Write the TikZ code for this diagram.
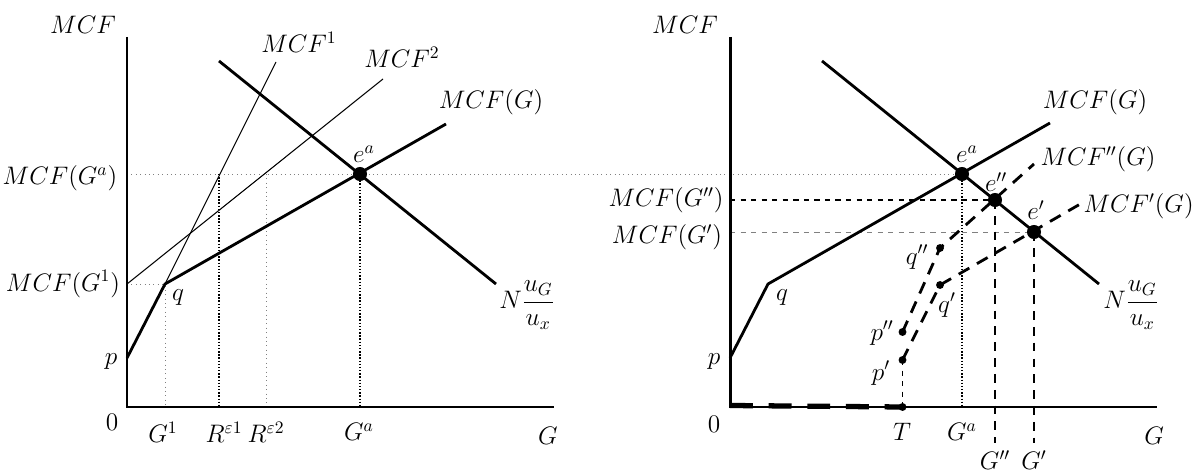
\documentclass[tikz,border=0pt]{standalone}
\usepackage{amsmath}
\usetikzlibrary{arrows.meta}

\begin{document}
\begin{tikzpicture}[x=0.02cm, y=0.02cm, font=\fontsize{14}{17}\selectfont,
  axisline/.style={line width=1.7pt},
  curve/.style={line width=1.6pt},
  thinline/.style={line width=0.6pt},
  lightdot/.style={gray, dotted, line width=0.5pt},
  darkdot/.style={densely dotted, line width=0.8pt},
  dashcurve/.style={line width=1.6pt, dash pattern=on 7pt off 5pt},
  dashdrop/.style={line width=1.1pt, dash pattern=on 5pt off 4pt},
  bigdot/.style={circle, fill, inner sep=0pt, minimum size=8pt},
  smalldot/.style={circle, fill, inner sep=0pt, minimum size=4.5pt}]
  \useasboundingbox (-127,-66) rectangle (1068,407);

  % left panel
  \coordinate (lp) at (0,49);
  \coordinate (lq) at (38,123);
  \coordinate (lg1) at (0,123);
  \coordinate (lmcf) at (319,283);
  \coordinate (lnt) at (92,346);
  \coordinate (lnb) at (369,123);
  \draw[lightdot] (0,233) -- (835,233);
  \draw[lightdot] (lg1) -- (lq) -- (38,0);
  \draw[darkdot] (92,233) -- (92,0);
  \draw[lightdot] (139,233) -- (139,0);
  \draw[darkdot] (233,233) -- (233,0);
  \draw[thinline] (lq) -- (149,345);
  \draw[thinline] (lg1) -- (256,328);
  \draw[curve] (lp) -- (lq) -- (lmcf);
  \draw[curve] (lnt) -- (lnb);
  \draw[axisline] (0,370) -- (0,0) -- (427,0);
  \node[bigdot] (lea) at (233,233) {};

  \node (lmcflab) at (-44,382) {$MCF$};
  \node (lmcfga) at (-67,229) {$MCF(G^a)$};
  \node (lmcfg1) at (-64,123) {$MCF(G^1)$};
  \node (lplab) at (-16,45) {$p$};
  \node (lqlab) at (51,109) {$q$};
  \node (lzero) at (-15,-15) {$0$};
  \node (lg1lab) at (36,-25) {$G^1$};
  \node (lr1lab) at (97,-25) {$R^{\varepsilon1}$};
  \node (lr2lab) at (139,-25) {$R^{\varepsilon2}$};
  \node (lgalab) at (232,-25) {$G^a$};
  \node (lglab) at (421,-29) {$G$};
  \node (lmcf1) at (172,365) {$MCF^1$};
  \node (lmcf2) at (275,350) {$MCF^2$};
  \node (lmcfg) at (364,305) {$MCF(G)$};
  \node (lealab) at (237,253) {$e^a$};
  \node (lnlab) at (400,102) {$N\dfrac{u_G}{u_x}$};

  % right panel
  \begin{scope}[shift={(603,0)}]
    \coordinate (rp) at (0,49);
    \coordinate (rq) at (38,123);
    \coordinate (rmcf) at (320,284);
    \coordinate (rnt) at (92,346);
    \coordinate (rnb) at (369,123);
    \coordinate (rT) at (172.5,0);
    \draw[dashed, line width=0.8pt] (0,207) -- (265,207);
    \draw[gray, dashed, line width=0.5pt] (0,175) -- (304,175);
    \draw[darkdot] (232,233) -- (232,0);
    \draw[dashdrop] (265,207) -- (265,-36);
    \draw[dashdrop] (304,175) -- (304,-36);
    \draw[dashed, line width=0.9pt] (172.5,47) -- (rT);
    \draw[curve] (rp) -- (rq) -- (rmcf);
    \draw[curve] (rnt) -- (rnb);
    \draw[dashcurve] (172.5,75) -- (210,159) -- (304,243);
    \draw[dashcurve] (172.5,47) -- (210,122) -- (352,204);
    \draw[axisline] (0,370) -- (0,0) -- (427,0);
    \draw[line width=3pt, dash pattern=on 13pt off 9pt] (0,1.5) -- (rT);
    \node[bigdot] (rea) at (232,233) {};
    \node[bigdot] (re2) at (265,207) {};
    \node[bigdot] (re1) at (304,175) {};
    \node[smalldot] (rq2) at (210,159) {};
    \node[smalldot] (rq1) at (210,122) {};
    \node[smalldot] (rp2) at (172.5,75) {};
    \node[smalldot] (rp1) at (172.5,47) {};
    \node[smalldot] (rTdot) at (rT) {};

    \node (rmcflab) at (-45,382) {$MCF$};
    \node (rmcfg2) at (-64,207) {$MCF(G'')$};
    \node (rmcfg1) at (-63,170) {$MCF(G')$};
    \node (rplab) at (-16,45) {$p$};
    \node (rqlab) at (52,109) {$q$};
    \node (rzero) at (-16,-17) {$0$};
    \node (rTlab) at (172,-25) {$T$};
    \node (rgalab) at (232,-25) {$G^a$};
    \node (rg2lab) at (265,-53) {$G''$};
    \node (rg1lab) at (304,-53) {$G'$};
    \node (rglab) at (424,-29) {$G$};
    \node (rp2lab) at (152,74) {$p''$};
    \node (rp1lab) at (151,34) {$p'$};
    \node (rq2lab) at (187,150) {$q''$};
    \node (rq1lab) at (217,102) {$q'$};
    \node (realab) at (237,253) {$e^a$};
    \node (re2lab) at (266,225) {$e''$};
    \node (re1lab) at (306,197) {$e'$};
    \node (rmcfg) at (365,305) {$MCF(G)$};
    \node (rmcf2g) at (368,248) {$MCF''(G)$};
    \node[anchor=east, inner sep=0pt] (rmcf1g) at (464,201) {$MCF'(G)$};
    \node (rnlab) at (401,102) {$N\dfrac{u_G}{u_x}$};
  \end{scope}
\end{tikzpicture}
\end{document}
